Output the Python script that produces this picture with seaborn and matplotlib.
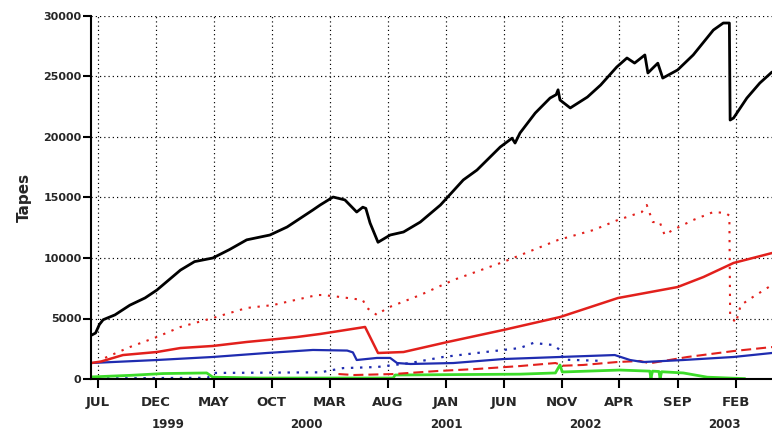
import pandas as pd
import matplotlib
matplotlib.use("Agg")
import matplotlib.pyplot as plt
import matplotlib.transforms as mtransforms
import seaborn as sns

sns.set_style("ticks")
plt.rcParams["font.family"] = ["DejaVu Sans"]
plt.rcParams["font.weight"] = "bold"

# ---- tape counts ------------------------------------------------------------
total_dates = ["1998-06-13", "1998-06-25", "1998-07-05", "1998-07-15", "1998-08-15",
               "1998-09-23", "1998-11-02", "1998-12-03", "1999-02-03", "1999-03-12",
               "1999-04-29", "1999-06-12", "1999-07-27", "1999-09-26", "1999-11-10",
               "2000-01-17", "2000-02-05", "2000-03-10", "2000-04-10", "2000-05-11",
               "2000-05-27", "2000-06-04", "2000-06-15", "2000-07-06", "2000-08-07",
               "2000-09-11", "2000-10-25", "2000-12-17", "2001-02-15", "2001-03-23",
               "2001-05-23", "2001-06-23", "2001-07-01", "2001-07-14", "2001-08-23",
               "2001-10-01", "2001-10-17", "2001-10-22", "2001-10-27", "2001-11-23",
               "2002-01-07", "2002-02-11", "2002-03-25", "2002-04-21", "2002-05-11",
               "2002-06-07", "2002-06-15", "2002-06-28", "2002-07-11", "2002-07-24",
               "2002-09-01", "2002-10-12", "2002-12-04", "2002-12-30", "2003-01-15",
               "2003-01-17", "2003-01-26", "2003-03-02", "2003-04-05", "2003-05-07"]
total_tapes = [3600, 3800, 4500, 4900, 5300,
               6100, 6700, 7350, 9000, 9700,
               10000, 10700, 11500, 11900, 12560,
               13970, 14380, 15040, 14800, 13800,
               14200, 14100, 12900, 11300, 11900,
               12150, 12970, 14380, 16450, 17270,
               19170, 19900, 19500, 20330, 21980,
               23220, 23500, 23900, 23060, 22400,
               23300, 24300, 25780, 26530, 26110,
               26780, 25290, 25700, 26100, 24870,
               25540, 26780, 28840, 29420, 29420,
               21400, 21570, 23220, 24460, 25370]

red_all_dates = ["1998-07-20", "1998-09-23", "1998-12-03", "1999-02-03", "1999-04-29",
                 "1999-07-27", "1999-10-04", "2000-01-28", "2000-02-13", "2000-03-28",
                 "2000-05-27", "2000-06-07", "2000-07-03", "2000-07-30", "2000-10-25",
                 "2001-01-20", "2001-05-31", "2001-10-22", "2002-01-23", "2002-03-28",
                 "2002-05-30", "2002-06-12", "2002-06-28", "2002-07-16", "2002-07-29",
                 "2002-08-19", "2002-10-12", "2002-12-04", "2003-01-05", "2003-01-15",
                 "2003-01-17", "2003-02-01", "2003-02-14", "2003-03-18", "2003-05-07"]
red_all_tapes = [1750, 2640, 3470, 4300, 5040,
                 5870, 6110, 6940, 6940, 6780,
                 6530, 5870, 5290, 5870, 6940,
                 8180, 9670, 11490, 12310, 13140,
                 13800, 14380, 12970, 12970, 11900,
                 12310, 13140, 13800, 13720, 13500,
                 5290, 4630, 6110, 6780, 7770]

red_dates = ["1998-06-13", "1998-07-10", "1998-09-05", "1998-12-03", "1999-02-03",
             "1999-04-29", "1999-07-27", "1999-09-18", "1999-12-06", "2000-02-05",
             "2000-06-02", "2000-07-06", "2000-09-11", "2001-01-05", "2001-05-31",
             "2001-10-27", "2002-03-28", "2002-09-01", "2002-11-08", "2003-01-26",
             "2003-05-07"]
red_tapes = [1320, 1450, 1980, 2230, 2560,
             2730, 3060, 3220, 3470, 3720,
             4300, 2150, 2230, 3060, 4050,
             5120, 6690, 7600, 8430, 9590,
             10410]

red_new_dates = ["2000-03-24", "2000-05-04", "2000-08-15", "2000-12-09", "2001-03-23",
                 "2001-07-14", "2001-10-15", "2001-11-05", "2001-12-27", "2002-03-25",
                 "2002-05-25", "2002-06-20", "2002-09-27", "2003-01-26", "2003-05-07"]
red_new_tapes = [410, 330, 410, 660, 830,
                 1070, 1320, 1100, 1160, 1400,
                 1490, 1300, 1820, 2310, 2640]

blue_dates = ["1998-06-13", "1998-12-03", "1999-04-29", "1999-09-18", "2000-01-17",
              "2000-04-16", "2000-05-01", "2000-05-11", "2000-07-03", "2000-08-07",
              "2000-08-25", "2000-09-29", "2001-01-20", "2001-05-31", "2001-10-27",
              "2002-03-20", "2002-04-29", "2002-06-02", "2002-09-16", "2003-01-26",
              "2003-05-07"]
blue_tapes = [1320, 1570, 1820, 2150, 2400,
              2350, 2200, 1570, 1740, 1740,
              1320, 1240, 1320, 1650, 1820,
              1980, 1570, 1400, 1570, 1820,
              2150]

blue_all_dates = ["1998-07-01", "1999-04-15", "1999-05-01", "2000-02-05", "2000-04-05",
                  "2000-07-03", "2000-09-29", "2000-12-24", "2001-03-23", "2001-07-14",
                  "2001-08-18", "2001-10-09", "2001-10-27", "2001-11-05", "2002-02-11"]
blue_all_tapes = [50, 100, 500, 550, 900,
                  990, 1320, 1820, 2150, 2560,
                  2980, 2810, 2400, 1600, 1500]

green_dates = ["1998-06-13", "1998-09-23", "1998-12-19", "1999-04-13", "1999-04-29",
               "1999-08-31", "2000-08-15", "2000-08-20", "2001-07-14", "2001-10-15",
               "2001-10-27", "2001-11-02", "2002-04-02", "2002-06-20", "2002-06-23",
               "2002-06-27", "2002-07-14", "2002-07-17", "2002-07-21", "2002-09-16",
               "2002-11-18", "2003-02-25"]
green_tapes = [170, 300, 450, 500, 150,
               80, 80, 330, 400, 500,
               1160, 580, 740, 650, 50,
               650, 620, 50, 600, 500,
               150, 30]

tick_dates = ["1998-07-01", "1998-12-01", "1999-05-01", "1999-10-01", "2000-03-01",
              "2000-08-01", "2001-01-01", "2001-06-01", "2001-11-01", "2002-04-01",
              "2002-09-01", "2003-02-01"]
tick_labels = ["JUL", "DEC", "MAY", "OCT", "MAR", "AUG",
               "JAN", "JUN", "NOV", "APR", "SEP", "FEB"]
year_dates = ["1999-01-01", "2000-01-01", "2001-01-01", "2002-01-01", "2003-01-01"]
year_labels = ["1999", "2000", "2001", "2002", "2003"]
y_ticks = [0, 5000, 10000, 15000, 20000, 25000, 30000]

RED = "#e2201c"
BLUE = "#1f2cb0"
GREEN = "#3ddc2a"

fig = plt.figure(figsize=(7.72, 4.33), dpi=100)
fig.patch.set_facecolor("white")
ax = fig.add_axes([91 / 772, 1 - 379 / 433, 681 / 772, 363 / 433])


def draw(dates, values, **style):
    sns.lineplot(x=pd.to_datetime(dates), y=values, ax=ax, estimator=None,
                 sort=False, legend=False, **style)


draw(red_all_dates, red_all_tapes, color=RED, lw=1.5, linestyle=(0, (1.1, 3.2)))
draw(blue_all_dates, blue_all_tapes, color=BLUE, lw=1.6, linestyle=(0, (1.1, 3.0)))
draw(green_dates, green_tapes, color=GREEN, lw=2.0)
draw(red_new_dates, red_new_tapes, color=RED, lw=1.5, linestyle=(0, (4.8, 2.4)))
draw(blue_dates, blue_tapes, color=BLUE, lw=1.6)
draw(red_dates, red_tapes, color=RED, lw=1.8)
draw(total_dates, total_tapes, color="black", lw=2.0)

ax.set_xlim(pd.Timestamp("1998-06-13"), pd.Timestamp("2003-05-07"))
ax.set_ylim(0, 30000)

ax.set_xticks(pd.to_datetime(tick_dates))
ax.set_xticklabels(tick_labels)
ax.set_yticks(y_ticks)
ax.set_yticklabels([str(v) for v in y_ticks])

ax.tick_params(axis="x", length=6.5, width=1.5, pad=5.5, labelsize=9.5, color="black")
ax.tick_params(axis="y", length=5.8, width=1.5, pad=1.0, labelsize=8, color="black")
for lab in ax.get_xticklabels() + ax.get_yticklabels():
    lab.set_fontweight("bold")

ax.grid(True, color="black", linestyle=(0, (1, 2.6)), linewidth=0.85)
ax.set_axisbelow(True)

for side in ("top", "right"):
    ax.spines[side].set_visible(False)
for side in ("left", "bottom"):
    ax.spines[side].set_linewidth(1.5)
    ax.spines[side].set_color("black")

ax.set_xlabel("")
ax.set_ylabel("Tapes", fontsize=11, fontweight="bold", labelpad=8)

trans = mtransforms.blended_transform_factory(ax.transData, ax.transAxes)
for d, lab in zip(pd.to_datetime(year_dates), year_labels):
    ax.text(d, -0.124, lab, transform=trans, ha="center", va="center",
            fontsize=8.5, fontweight="bold", clip_on=False)

fig.savefig("out.png", dpi=100, facecolor="white")
